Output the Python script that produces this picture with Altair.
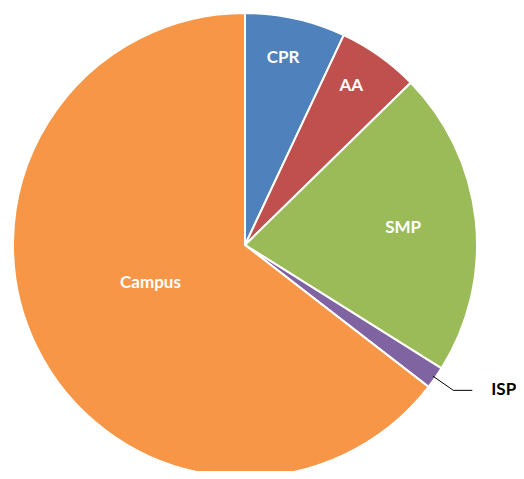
import math
import altair as alt
import pandas as pd

categories = ["CPR", "AA", "SMP", "ISP", "Campus"]
values = [7.0, 5.67, 21.25, 1.55, 64.53]
colors = ["#4F81BD", "#C0504D", "#9BBB59", "#8064A2", "#F79646"]

df = pd.DataFrame({"cat": categories, "val": values, "idx": list(range(len(categories)))})

W, H = 508, 463
CX, CY, R = 237, 237, 232

pie = alt.Chart(df).mark_arc(stroke="white", strokeWidth=2).encode(
    theta=alt.Theta("val:Q", stack=True),
    order=alt.Order("idx:Q"),
    color=alt.Color("cat:N", scale=alt.Scale(domain=categories, range=colors), legend=None),
    x=alt.value(CX), y=alt.value(CY), radius=alt.value(R),
)

labels = alt.Chart(df).transform_window(
    cum="sum(val)", sort=[alt.SortField("idx")]
).transform_calculate(
    nudge="datum.cat == 'Campus' ? 1.15 : (datum.cat == 'CPR' ? -0.3 : (datum.cat == 'AA' ? -0.45 : 0))",
    mid="datum.cum - datum.val / 2 + datum.nudge",
    r="datum.cat == 'Campus' ? 102 : (datum.cat == 'SMP' ? 159 : 191)",
    lab="datum.cat == 'ISP' ? '' : datum.cat",
).mark_text(font="Lato", fontWeight="bold", fontSize=17, color="white").encode(
    theta=alt.Theta("mid:Q", stack=False),
    text="lab:N",
    radius=alt.Radius("r:Q", scale=None),
    x=alt.value(CX), y=alt.value(CY),
)

# Leader line for ISP derived from the data
total = sum(values)
i = categories.index("ISP")
frac = (sum(values[:i]) + values[i] / 2) / total
th = 2 * math.pi * frac
p1 = (CX + 229 * math.sin(th), CY - 229 * math.cos(th))
p2 = (CX + 254 * math.sin(th), CY - 254 * math.cos(th))
p3 = (p2[0] + 19, p2[1])
leader_df = pd.DataFrame({"x": [p1[0], p2[0], p3[0]], "y": [p1[1], p2[1], p3[1]], "o": [0, 1, 2]})
leader = alt.Chart(leader_df).mark_line(color="black", strokeWidth=1).encode(
    x=alt.X("x:Q", scale=None), y=alt.Y("y:Q", scale=None), order="o:Q"
)
isp_df = pd.DataFrame({"x": [p3[0] + 19], "y": [p3[1]], "t": ["ISP"]})
isp_label = alt.Chart(isp_df).mark_text(
    font="Lato", fontWeight="bold", fontSize=17, color="black", align="left", baseline="middle"
).encode(x=alt.X("x:Q", scale=None), y=alt.Y("y:Q", scale=None), text="t:N")

chart = alt.layer(pie, labels, leader, isp_label).properties(
    width=W, height=H, autosize="none", padding=0
).configure_view(stroke=None)

chart.save("out.html", embed_options={"renderer": "svg", "actions": False})
